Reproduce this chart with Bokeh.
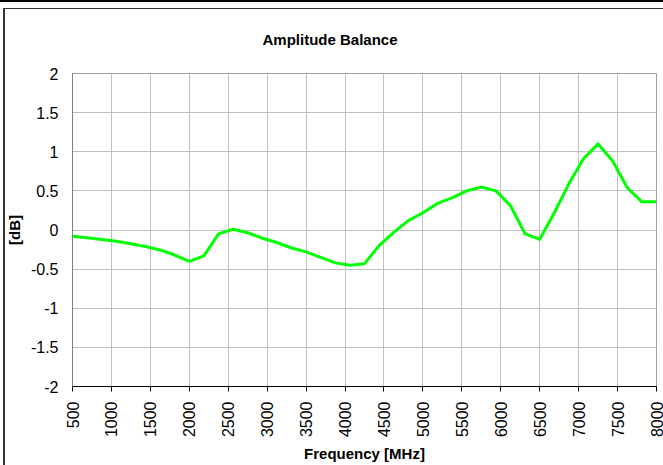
import math
from bokeh.plotting import figure
from bokeh.models import Range1d, FixedTicker, Column
from bokeh.embed import file_html
from bokeh.resources import INLINE

FONT = "Liberation Sans"

# ---- data ----
freq_mhz = [500, 687.5, 875, 1062.5, 1250, 1437.5, 1625, 1812.5, 2000,
            2187.5, 2375, 2562.5, 2750, 2937.5, 3125, 3312.5, 3500, 3687.5,
            3875, 4062.5, 4250, 4437.5, 4625, 4812.5, 5000, 5187.5, 5375,
            5562.5, 5750, 5937.5, 6125, 6312.5, 6500, 6687.5, 6875, 7062.5,
            7250, 7437.5, 7625, 7812.5, 8000]
balance_db = [-0.08, -0.10, -0.12, -0.145, -0.175, -0.21, -0.255, -0.32, -0.40,
              -0.33, -0.05, 0.01, -0.035, -0.105, -0.16, -0.23, -0.28, -0.35,
              -0.42, -0.45, -0.43, -0.20, -0.03, 0.12, 0.22, 0.34, 0.41,
              0.50, 0.55, 0.50, 0.31, -0.05, -0.12, 0.22, 0.59, 0.91,
              1.10, 0.88, 0.54, 0.36, 0.36]

x_ticks = [500, 1000, 1500, 2000, 2500, 3000, 3500, 4000, 4500, 5000,
           5500, 6000, 6500, 7000, 7500, 8000]
x_tick_labels = ["500", "1000", "1500", "2000", "2500", "3000", "3500", "4000",
                 "4500", "5000", "5500", "6000", "6500", "7000", "7500", "8000"]
y_ticks = [-2.0, -1.5, -1.0, -0.5, 0.0, 0.5, 1.0, 1.5, 2.0]
y_tick_labels = ["-2", "-1.5", "-1", "-0.5", "0", "0.5", "1", "1.5", "2"]

title_text = "Amplitude Balance"
x_label = "Frequency [MHz]"
y_label = "[dB]"

# ---- figure ----
p = figure(width=663, height=465, output_backend="svg", toolbar_location=None,
           x_range=Range1d(500, 8000), y_range=Range1d(-2, 2),
           min_border_left=72, min_border_right=7,
           min_border_top=73, min_border_bottom=73,
           background_fill_color="white", border_fill_color=None)

p.title.text = title_text
p.title.text_font = FONT
p.title.text_font_size = "15px"
p.title.text_font_style = "bold"
p.title.text_color = "black"
p.title.align = "left"
p.title.offset = 190
p.title.vertical_align = "top"
p.title.standoff = 48

p.line(freq_mhz, balance_db, line_color="#00ff00", line_width=3, line_join="round")

xa = p.xaxis[0]
xa.ticker = FixedTicker(ticks=x_ticks)
xa.major_label_overrides = dict(zip(x_ticks, x_tick_labels))
xa.major_label_orientation = math.pi / 2
xa.major_label_text_font = FONT
xa.major_label_text_font_size = "16px"
xa.major_label_text_color = "black"
xa.major_tick_out = 5
xa.major_tick_in = 0
xa.minor_tick_out = 0
xa.minor_tick_in = 0
xa.major_label_standoff = 10
xa.axis_line_color = "black"
xa.major_tick_line_color = "black"
xa.axis_label = x_label
xa.axis_label_text_font = FONT
xa.axis_label_text_font_size = "15px"
xa.axis_label_text_font_style = "bold"
xa.axis_label_text_color = "black"
xa.axis_label_standoff = 5

ya = p.yaxis[0]
ya.ticker = FixedTicker(ticks=y_ticks)
ya.major_label_overrides = dict(zip(y_ticks, y_tick_labels))
ya.major_label_text_font = FONT
ya.major_label_text_font_size = "16px"
ya.major_label_text_color = "black"
ya.major_tick_out = 0
ya.major_tick_in = 0
ya.minor_tick_out = 0
ya.minor_tick_in = 0
ya.major_label_standoff = 14
ya.axis_line_color = "#808080"
ya.axis_label = y_label
ya.axis_label_text_font = FONT
ya.axis_label_text_font_size = "15px"
ya.axis_label_text_font_style = "bold"
ya.axis_label_text_color = "black"
ya.axis_label_standoff = 5

p.xgrid[0].ticker = FixedTicker(ticks=x_ticks)
p.ygrid[0].ticker = FixedTicker(ticks=y_ticks)
p.grid.grid_line_color = "#c0c0c0"
p.grid.grid_line_width = 1
p.outline_line_color = "#a0a0a0"

# Wrapper whose background draws the chart-area frame lines seen at the window edge.
frame_lines = ("linear-gradient(#000, #000) 0 0 / 100% 2px no-repeat, "
               "linear-gradient(#333, #333) 3px 8px / 100% 1px no-repeat, "
               "linear-gradient(#333, #333) 3px 8px / 2px 100% no-repeat, #ffffff")
page = Column(children=[p],
              styles={"max-height": "465px", "overflow": "hidden", "background": frame_lines})

open("out.html", "w").write(file_html(page, INLINE))
